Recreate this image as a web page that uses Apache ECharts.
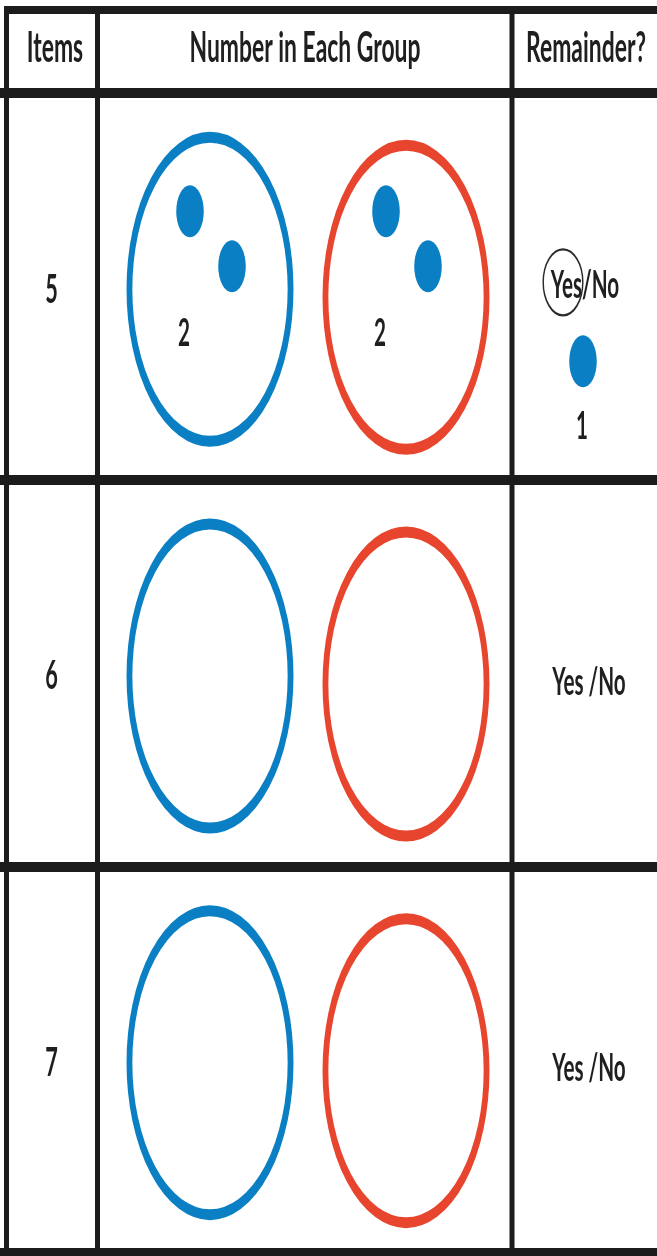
<!DOCTYPE html>
<html>
<head>
<meta charset="utf-8">
<script src="https://cdn.jsdelivr.net/npm/echarts@6/dist/echarts.min.js"></script>
<style>
  html, body { margin: 0; padding: 0; background: #fff; }
  #chart { width: 657px; height: 1256px; }
</style>
</head>
<body>
<div id="chart"></div>
<script>
// table content
const headers = ['Items', 'Number in Each Group', 'Remainder?']
const items = [5, 6, 7]
const groupsPerRow = [2, 2, 2]
const numberInEachGroup = [2, null, null]
const remainderCount = [1, null, null]
const remainderAnswer = ['Yes', null, null]

// layout (pixels on a 0..657 x scale)
const COL_LINES = [6.5, 97.5, 512]
const HEADER_X = [55, 305, 586]
const ITEM_X = 51.5
const GROUP_X = [210, 406]
const GROUP_DY = [3, 11]
const DOT_OFFSETS = [[-20, -75], [22, -20]]
const REM_X = 585
const SQUISH = 0.53

const INK = '#1f1f1f'
const LINE = '#1c1c1c'
const GROUP_COLORS = ['#0a7fc3', '#e8452f']
const DOT_COLOR = '#0a7fc3'
const FONT = 'bold 41px Lato'
const FONT_HEAD = 'bold 42px Lato'
const FONT_SMALL = 'bold 39px Lato'

const txt = (x, y, text, font, sx = SQUISH) => ({
  type: 'text',
  x, y,
  scaleX: sx,
  style: { text, font, fill: INK, align: 'center', verticalAlign: 'middle', textAlign: 'center', textVerticalAlign: 'middle' },
})

const oval = (x, y, r, sx, style) => ({
  type: 'circle',
  x, y,
  scaleX: sx,
  shape: { cx: 0, cy: 0, r },
  style,
})

const renderRow = (params, api) => {
  const i = params.dataIndex
  const row = api.value(1)
  const cy = api.coord([0, row])[1]
  const children = []

  children.push(txt(api.coord([ITEM_X, row])[0], cy + 3, String(items[i]), FONT))

  for (let g = 0; g < groupsPerRow[i]; g++) {
    const gx = api.coord([GROUP_X[g], row])[0]
    children.push(oval(gx, cy + GROUP_DY[g], 152, SQUISH, { fill: 'none', stroke: GROUP_COLORS[g], lineWidth: 11 }))
    const n = numberInEachGroup[i]
    if (n != null) {
      for (let k = 0; k < n; k++) {
        const off = DOT_OFFSETS[k]
        children.push(oval(gx + off[0], cy + off[1], 26, SQUISH, { fill: DOT_COLOR }))
      }
      children.push(txt(gx - 26, cy + 47, String(n), FONT_SMALL))
    }
  }

  const rx = api.coord([REM_X, row])[0]
  if (remainderAnswer[i] === 'Yes') {
    children.push(txt(rx, cy - 1, 'Yes/No', FONT_SMALL))
    children.push(oval(rx - 22, cy - 4, 33, 0.6, { fill: 'none', stroke: '#2a2a2a', lineWidth: 2.4 }))
    const r = remainderCount[i]
    for (let k = 0; k < r; k++) {
      children.push(oval(rx - 2, cy + 75, 26, SQUISH, { fill: DOT_COLOR }))
    }
    children.push(txt(rx - 3, cy + 140, String(r), FONT_SMALL))
  } else {
    children.push(txt(rx + 4, cy + 9, 'Yes /No', FONT_SMALL))
  }

  return { type: 'group', children }
}

const chart = echarts.init(document.getElementById('chart'))

const graphic = [
  {
    type: 'line',
    shape: { x1: 4, y1: 10, x2: 657, y2: 10 },
    style: { stroke: LINE, lineWidth: 8 },
    z: 10,
  },
  ...COL_LINES.map((x) => ({
    type: 'line',
    shape: { x1: x, y1: 6, x2: x, y2: 1256 },
    style: { stroke: LINE, lineWidth: 5 },
    z: 10,
  })),
  ...headers.map((h, i) => ({
    type: 'text',
    x: HEADER_X[i],
    y: 48,
    scaleX: 0.545,
    style: { text: h, font: FONT_HEAD, fill: INK, textAlign: 'center', textVerticalAlign: 'middle', align: 'center', verticalAlign: 'middle' },
    z: 10,
  })),
]

chart.setOption({
  animation: false,
  backgroundColor: '#fff',
  grid: { left: 0, right: 0, top: 93, bottom: 3, containLabel: false },
  xAxis: { type: 'value', min: 0, max: 657, show: false },
  yAxis: {
    type: 'category',
    data: items.map(String),
    inverse: true,
    boundaryGap: true,
    axisLine: { show: false },
    axisTick: { show: false },
    axisLabel: { show: false },
    splitLine: { show: true, interval: 0, lineStyle: { color: LINE, width: 10 } },
  },
  graphic,
  series: [
    {
      type: 'custom',
      renderItem: renderRow,
      encode: { x: 0, y: 1 },
      data: items.map((v, i) => [0, i]),
      clip: false,
    },
  ],
})
</script>
</body>
</html>
